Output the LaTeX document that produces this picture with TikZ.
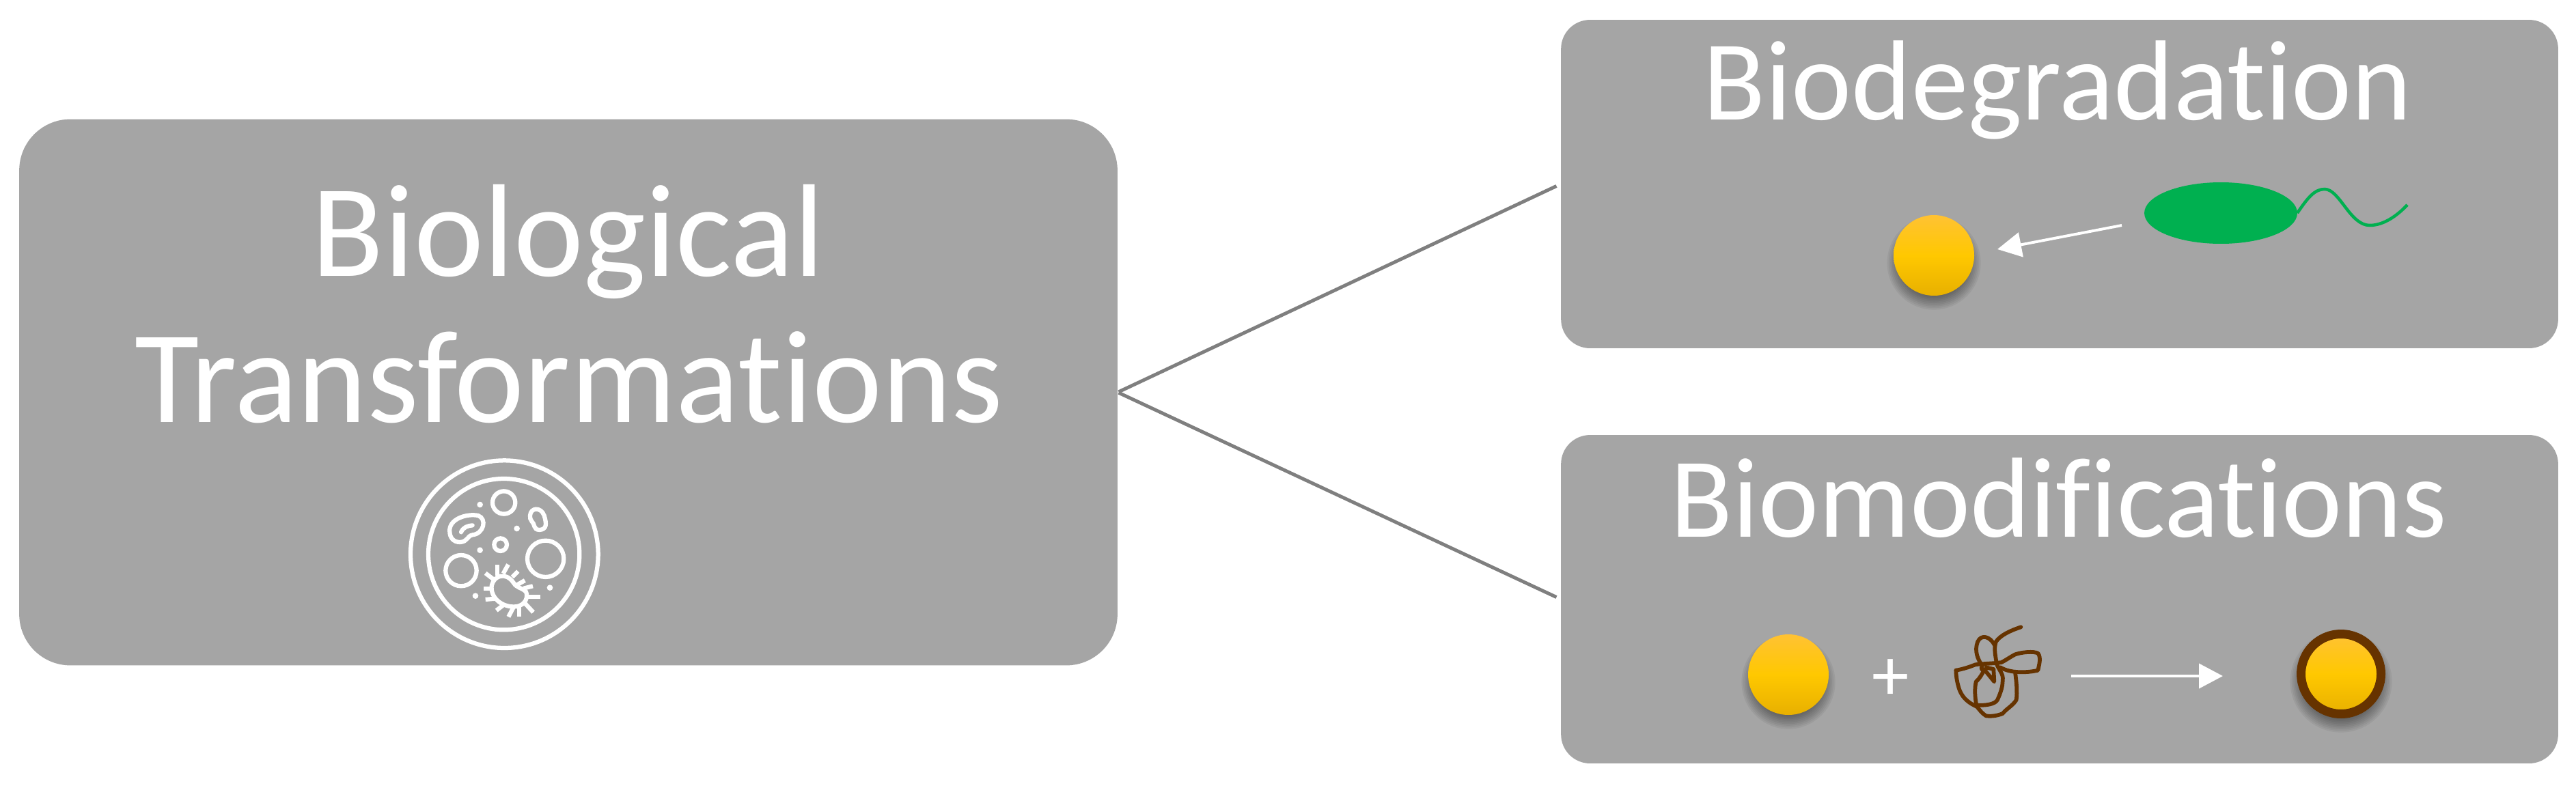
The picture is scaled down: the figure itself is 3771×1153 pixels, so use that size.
\documentclass[tikz,border=0pt]{standalone}
\usepackage{fontspec}
\setmainfont[Ligatures=NoCommon]{Carlito}
\usetikzlibrary{arrows.meta,shapes.geometric}
\definecolor{boxgray}{HTML}{A5A5A5}
\definecolor{linegray}{HTML}{7F7F7F}
\definecolor{germ}{HTML}{00B050}
\definecolor{coat}{HTML}{663300}
\definecolor{goldtop}{HTML}{FFC233}
\definecolor{goldmid}{HTML}{FFC800}
\definecolor{goldbot}{HTML}{E8B000}
\tikzset{
  x=0.02cm,y=-0.02cm,
  boxmain/.style={draw=none,fill=boxgray,rounded corners=1.5cm,minimum width=32.16cm,minimum height=16cm,inner sep=0},
  boxside/.style={draw=none,fill=boxgray,rounded corners=0.85cm,minimum width=29.2cm,minimum height=9.62cm,inner sep=0},
  link/.style={draw=linegray,line width=0.1cm,shorten <=0.03cm,shorten >=0.14cm},
  titlebig/.style={text=white,anchor=base,font=\fontsize{110pt}{110pt}\selectfont,inner sep=0},
  titlesmall/.style={text=white,anchor=base,font=\fontsize{95pt}{95pt}\selectfont,inner sep=0},
  plusmark/.style={text=white,anchor=center,font=\fontsize{62pt}{62pt}\selectfont,inner sep=0},
  ball/.style={circle,minimum size=2.36cm,inner sep=0,top color=goldtop,bottom color=goldbot,middle color=goldmid},
  whitearrow/.style={draw=white,line width=0.08cm,-{Triangle[length=0.7cm,width=0.72cm]}},
  iconline/.style={draw=white,line width=0.125cm},
  icondot/.style={fill=white,draw=none},
  scrib/.style={draw=coat,line width=0.115cm,line join=round,line cap=round},
}
\newcommand{\softshadow}[3]{%
  \foreach \k in {1,...,10}{
    \fill[black,opacity=0.05] (#1,#2+11) circle [radius=#3+12-2.4*\k];
  }}
\begin{document}
\begin{tikzpicture}
\useasboundingbox[fill=white] (0,0) rectangle (3771,1153);
% boxes
\node[boxmain] (main) at (832,574.5) {};
\node[boxside] (deg) at (3015,269.5) {};
\node[boxside] (mod) at (3015,877.5) {};
\draw[link] (main.east) -- (deg.west);
\draw[link] (main.east) -- (mod.west);
% titles
\node[titlebig] (t1) at (832,404) {Biological};
\node[titlebig] (t2) at (833,618) {Transformations};
\node[titlesmall] (t3) at (3012,175) {Biodegradation};
\node[titlesmall] (t4) at (3014,786) {Biomodifications};
% petri-dish icon
\begin{scope}[shift={(560,640)},x=0.02cm/3,y=-0.02cm/3]
  \draw[iconline] (535,515) circle [radius=412];
  \draw[iconline] (533,515) circle [radius=332];
  \draw[iconline] (533,288) circle [radius=50];
  \draw[iconline] (345,587) circle [radius=68];
  \draw[iconline] (716,535) circle [radius=80];
  \draw[iconline] (518,473) circle [radius=28];
  \foreach \a/\b in {428/297,590/402,428/497,408/698,735/662}
    \fill[icondot] (\a,\b) circle [radius=13];
  \draw[iconline] (295,415) .. controls (290,360) and (370,335) .. (420,345)
     .. controls (460,360) and (445,425) .. (395,430)
     .. controls (370,435) and (375,460) .. (340,462)
     .. controls (310,462) and (295,440) .. (295,415) -- cycle;
  \draw[iconline,line cap=round] (345,418) .. controls (355,395) and (375,390) .. (395,388);
  \draw[iconline] (648,345) .. controls (650,310) and (695,305) .. (710,345)
     .. controls (722,385) and (720,405) .. (690,408)
     .. controls (660,408) and (670,380) .. (655,370)
     .. controls (648,362) and (648,355) .. (648,345) -- cycle;
  \draw[iconline] (575,640) .. controls (540,590) and (490,610) .. (480,650)
     .. controls (470,700) and (520,750) .. (585,745)
     .. controls (630,740) and (640,700) .. (630,680)
     .. controls (610,660) and (590,665) .. (575,640) -- cycle;
  \foreach \a/\b/\c/\d in {505/610/505/560,530/600/552/560,570/615/595/590,590/650/625/630,
      620/665/660/655,635/702/692/702,625/730/662/770,600/745/600/790,575/748/553/790,
      535/735/500/762,495/710/452/714,478/665/444/665,487/625/452/598}
    \draw[iconline] (\a,\b) -- (\c,\d);
\end{scope}
% biodegradation content
\softshadow{2831}{374}{59}
\node[ball] (b1) at (2831,374) {};
\node[ellipse,fill=germ,minimum width=4.48cm,minimum height=1.8cm,inner sep=0] (bact) at (3251,312) {};
\coordinate (flagstart) at (3363,312);
\coordinate (flagend) at (3524,300);
\draw[draw=germ,line width=0.09cm] (flagstart) .. controls (3378,290) and (3388,277) .. (3403,277)
  .. controls (3425,277) and (3440,330) .. (3469,330) .. controls (3490,330) and (3510,315) .. (flagend);
\coordinate (a1s) at (3106,330);
\coordinate (a1e) at (2924,365);
\draw[whitearrow] (a1s) -- (a1e);
% biomodification content
\softshadow{2618}{988}{59}
\node[ball] (b2) at (2618,988) {};
\node[plusmark] (plus) at (2768,996) {+};
\begin{scope}[shift={(2820,890)},x=0.02cm/3,y=-0.02cm/3]
  \draw[scrib] (415,85) .. controls (370,100) and (325,120) .. (305,150)
     .. controls (295,185) and (305,215) .. (308,245) .. controls (318,275) and (340,290) .. (335,320)
     .. controls (335,350) and (325,375) .. (312,405) .. controls (300,425) and (260,430) .. (220,428)
     .. controls (212,390) and (212,350) .. (218,325) .. controls (235,310) and (245,290) .. (255,272)
     -- (298,325) -- (295,270) -- (262,262);
  \draw[scrib] (300,165) .. controls (280,125) and (240,115) .. (225,150)
     .. controls (210,190) and (225,225) .. (245,255) .. controls (235,270) and (250,280) .. (255,272);
  \draw[scrib] (130,275) .. controls (160,270) and (190,260) .. (215,250)
     .. controls (250,245) and (300,245) .. (330,240) .. controls (350,230) and (370,215) .. (390,205)
     .. controls (420,195) and (470,190) .. (490,200) .. controls (505,220) and (495,250) .. (490,275)
     .. controls (450,285) and (370,290) .. (325,262);
  \draw[scrib] (390,285) .. controls (395,320) and (400,370) .. (395,405)
     .. controls (380,430) and (350,445) .. (335,465) .. controls (310,475) and (285,478) .. (262,475)
     .. controls (245,465) and (235,450) .. (222,435) .. controls (190,420) and (160,400) .. (145,360)
     .. controls (135,330) and (130,300) .. (130,275);
\end{scope}
\coordinate (a2s) at (3032,990);
\coordinate (a2e) at (3254,990);
\draw[whitearrow] (a2s) -- (a2e);
\softshadow{3427}{987}{65}
\node[ball,draw=coat,line width=0.26cm,minimum size=2.34cm] (b3) at (3427,987) {};
\end{tikzpicture}
\end{document}
